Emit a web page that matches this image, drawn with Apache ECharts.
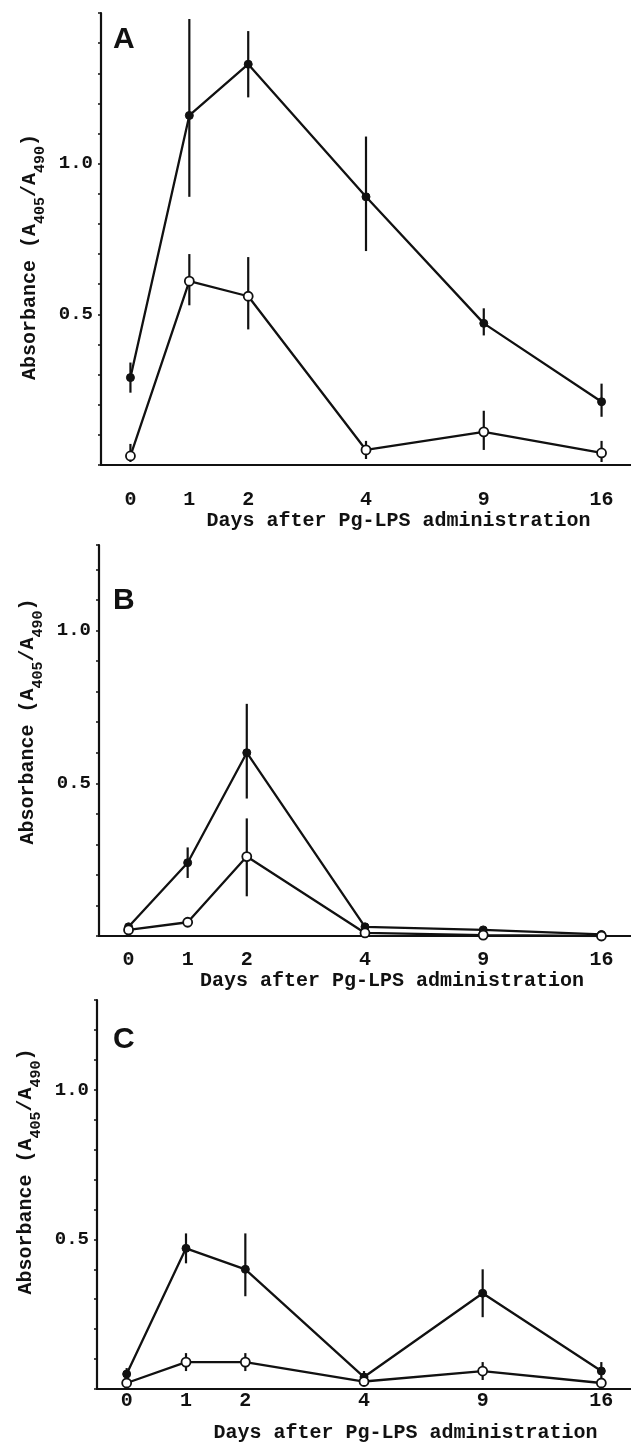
<!DOCTYPE html>
<html>
<head>
<meta charset="utf-8">
<script src="https://cdn.jsdelivr.net/npm/echarts@6/dist/echarts.min.js"></script>
<style>
html, body { margin: 0; padding: 0; background: #fff; }
#chart { width: 631px; height: 1444px; }
</style>
</head>
<body>
<div id="chart"></div>
<script>
// x slots: days are not evenly spaced, blanks keep the gaps of the original axis
const dayCats = ['0', '1', '2', '', '4', '', '9', '', '16'];
const days = ['0', '1', '2', '4', '9', '16'];
const yTickLabels = ['0.5', '1.0'];

// panel A
const aFilled   = [0.29, 1.16, 1.33, 0.89, 0.47, 0.21];
const aFilledHi = [0.34, 1.48, 1.44, 1.09, 0.52, 0.27];
const aFilledLo = [0.24, 0.89, 1.22, 0.71, 0.43, 0.16];
const aOpen     = [0.03, 0.61, 0.56, 0.05, 0.11, 0.04];
const aOpenHi   = [0.07, 0.70, 0.69, 0.08, 0.18, 0.08];
const aOpenLo   = [0.01, 0.53, 0.45, 0.02, 0.05, 0.01];

// panel B
const bFilled   = [0.03, 0.24, 0.60, 0.03, 0.02, 0.005];
const bFilledHi = [0.04, 0.29, 0.76, 0.04, 0.03, 0.01];
const bFilledLo = [0.02, 0.19, 0.45, 0.02, 0.01, 0.0];
const bOpen     = [0.02, 0.045, 0.26, 0.01, 0.003, 0.0];
const bOpenHi   = [0.02, 0.045, 0.385, 0.01, 0.003, 0.0];
const bOpenLo   = [0.02, 0.045, 0.13, 0.01, 0.003, 0.0];

// panel C
const cFilled   = [0.05, 0.47, 0.40, 0.04, 0.32, 0.06];
const cFilledHi = [0.07, 0.52, 0.52, 0.06, 0.40, 0.09];
const cFilledLo = [0.03, 0.42, 0.31, 0.02, 0.24, 0.03];
const cOpen     = [0.02, 0.09, 0.09, 0.025, 0.06, 0.02];
const cOpenHi   = [0.02, 0.12, 0.12, 0.03, 0.09, 0.02];
const cOpenLo   = [0.02, 0.06, 0.06, 0.02, 0.03, 0.02];

const FONT = "'Liberation Mono', 'DejaVu Sans Mono', monospace";
const INK = '#111';

function pts(vals) {
  return vals.map((v, i) => [dayCats.indexOf(days[i]), v]);
}
function errs(lo, hi) {
  return lo.map((l, i) => [dayCats.indexOf(days[i]), l, hi[i]]);
}
function showSlot(i, v) { return v !== ''; }

function renderBar(params, api) {
  const p1 = api.coord([api.value(0), api.value(1)]);
  const p2 = api.coord([api.value(0), api.value(2)]);
  return {
    type: 'line',
    shape: { x1: p1[0], y1: p1[1], x2: p2[0], y2: p2[1] },
    style: { stroke: INK, lineWidth: 2.2 }
  };
}

const panels = [
  { letter: 'A', grid: { left: 101, top: 13, width: 547, height: 452 }, max: 1.5,
    labelMargin: 25, nameGap: 41, namePad: 65, yNamePad: [0, 36, 0, 0], letterY: 41,
    filled: [aFilled, aFilledLo, aFilledHi], open: [aOpen, aOpenLo, aOpenHi] },
  { letter: 'B', grid: { left: 99, top: 545, width: 541, height: 391 }, max: 1.28,
    labelMargin: 14, nameGap: 34, namePad: 54, yNamePad: [0, 0, 0, 38], letterY: 602,
    filled: [bFilled, bFilledLo, bFilledHi], open: [bOpen, bOpenLo, bOpenHi] },
  { letter: 'C', grid: { left: 97, top: 1000, width: 544, height: 392 }, max: 1.3,
    labelMargin: 2, nameGap: 34, namePad: 83, yNamePad: [0, 0, 0, 46], letterY: 1041,
    filled: [cFilled, cFilledLo, cFilledHi], open: [cOpen, cOpenLo, cOpenHi] }
];

const grids = [], xAxes = [], yAxes = [], series = [], graphics = [];

panels.forEach((p, k) => {
  grids.push(p.grid);
  xAxes.push({
    type: 'category', gridIndex: k, data: dayCats, boundaryGap: true,
    axisLine: { lineStyle: { color: INK, width: 2.2 } },
    axisTick: { alignWithLabel: true, length: 4, interval: showSlot, lineStyle: { color: INK, width: 2 } },
    axisLabel: { interval: showSlot, margin: p.labelMargin, color: INK, fontFamily: FONT, fontSize: 20, fontWeight: 'bold' },
    splitLine: { show: false },
    name: 'Days after Pg-LPS administration', nameLocation: 'middle', nameGap: p.nameGap,
    nameTextStyle: { color: INK, fontFamily: FONT, fontSize: 20, fontWeight: 'bold', padding: [0, 0, 0, p.namePad] }
  });
  yAxes.push({
    type: 'value', gridIndex: k, min: 0, max: p.max, interval: 0.1,
    axisLine: { show: true, lineStyle: { color: INK, width: 2.2 } },
    axisTick: { show: true, length: 3, lineStyle: { color: INK, width: 1.5 } },
    axisLabel: {
      margin: 8, color: INK, fontFamily: FONT, fontSize: 19, fontWeight: 'bold',
      formatter: v => {
        if (Math.abs(v - 0.5) < 1e-6) return yTickLabels[0];
        if (Math.abs(v - 1) < 1e-6) return yTickLabels[1];
        return '';
      }
    },
    splitLine: { show: false },
    name: '{m|Absorbance (A}{s|405}{m|/A}{s|490}{m|)}',
    nameLocation: 'middle', nameRotate: 90, nameGap: 52,
    nameTextStyle: {
      padding: p.yNamePad,
      rich: {
        m: { fontFamily: FONT, fontSize: 20, fontWeight: 'bold', color: INK, lineHeight: 28, verticalAlign: 'top' },
        s: { fontFamily: FONT, fontSize: 15, fontWeight: 'bold', color: INK, lineHeight: 15, verticalAlign: 'bottom' }
      }
    }
  });
  series.push({
    type: 'custom', xAxisIndex: k, yAxisIndex: k, renderItem: renderBar, z: 1,
    encode: { x: 0, y: [1, 2] }, data: errs(p.filled[1], p.filled[2])
  });
  series.push({
    type: 'custom', xAxisIndex: k, yAxisIndex: k, renderItem: renderBar, z: 1,
    encode: { x: 0, y: [1, 2] }, data: errs(p.open[1], p.open[2])
  });
  series.push({
    type: 'line', xAxisIndex: k, yAxisIndex: k, z: 3, data: pts(p.filled[0]),
    symbol: 'circle', symbolSize: 8,
    lineStyle: { color: INK, width: 2.3 },
    itemStyle: { color: INK, borderColor: INK, borderWidth: 1 }
  });
  series.push({
    type: 'line', xAxisIndex: k, yAxisIndex: k, z: 4, data: pts(p.open[0]),
    symbol: 'circle', symbolSize: 9,
    lineStyle: { color: INK, width: 2.3 },
    itemStyle: { color: '#fff', borderColor: INK, borderWidth: 1.8 }
  });
  graphics.push({
    type: 'text', left: 113, top: p.letterY - 16,
    style: { text: p.letter, fontFamily: "'Liberation Sans', Arial, sans-serif", fontSize: 30, fontWeight: 'bold', fill: INK }
  });
});

const chart = echarts.init(document.getElementById('chart'));
chart.setOption({
  backgroundColor: '#fff',
  animation: false,
  grid: grids,
  xAxis: xAxes,
  yAxis: yAxes,
  series: series,
  graphic: graphics
});
</script>
</body>
</html>
